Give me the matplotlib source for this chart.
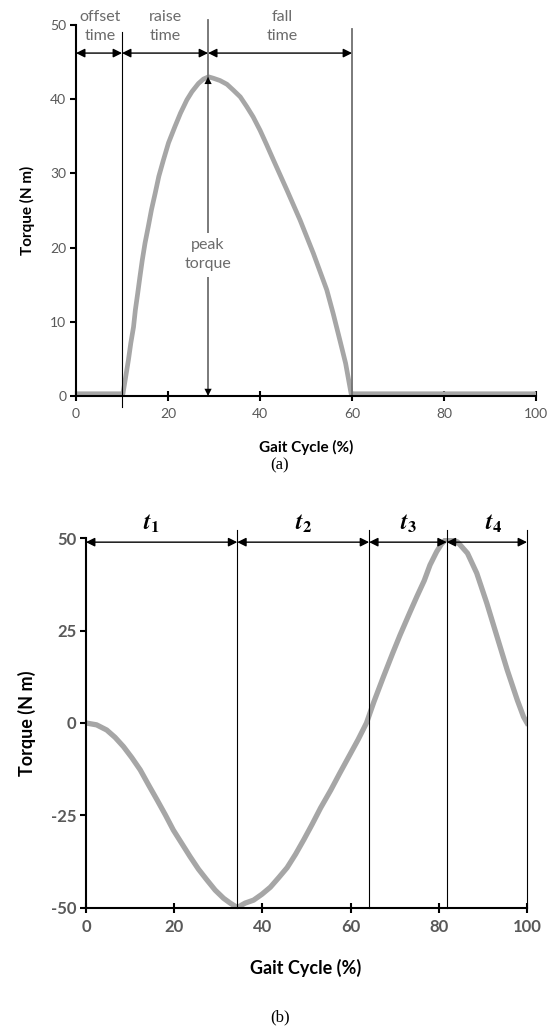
import matplotlib
matplotlib.use("Agg")
import matplotlib.pyplot as plt

plt.rcParams["font.family"] = ["Lato", "DejaVu Sans"]
plt.rcParams["mathtext.fontset"] = "stix"
plt.rcParams["axes.unicode_minus"] = False

# (a) torque profile
gait_a = [0, 10.2, 10.8, 11.4, 11.9, 12.5, 12.9, 13.4, 13.9, 14.4, 15.0, 15.7, 16.4,
          17.2, 18.0, 19.0, 20.1, 21.5, 22.7, 24.1, 25.2, 26.6, 27.7, 28.8, 29.9,
          31.3, 32.8, 34.2, 35.7, 37.1, 38.5, 40.0, 41.4, 42.9, 45.8, 48.7, 51.6,
          54.5, 55.9, 57.4, 58.6, 59.8, 100]
torque_a = [0.3, 0.3, 2.6, 4.9, 7.1, 9.3, 11.6, 13.8, 16.1, 18.3, 20.6, 22.8, 25.1,
            27.3, 29.6, 31.8, 34.1, 36.3, 38.1, 39.9, 41.0, 42.1, 42.7, 43.0, 42.8,
            42.5, 42.0, 41.2, 40.3, 39.0, 37.6, 35.8, 33.9, 31.8, 27.8, 23.7, 19.2,
            14.3, 11.1, 7.4, 4.4, 0.3, 0.3]
offset_time = 10
peak_time = 28.7
fall_end = 60
peak_torque = 43

# (b) torque profile
gait_b = [0, 2.4, 4.7, 6.6, 8.5, 10.4, 12.3, 14.2, 16.1, 18.0, 19.8, 21.7, 23.6,
          25.5, 27.4, 29.3, 31.2, 32.7, 34.3, 36.1, 38.0, 39.9, 41.8, 43.7, 45.6,
          47.5, 49.4, 51.3, 53.2, 55.5, 57.5, 59.6, 61.7, 63.6, 65.3, 67.4, 69.5,
          71.2, 73.3, 75.0, 76.7, 78.0, 79.5, 80.6, 81.8, 84.2, 86.5, 88.6, 90.9,
          93.2, 95.5, 97.8, 99.2, 100]
torque_b = [0, -0.5, -1.9, -3.9, -6.4, -9.4, -12.7, -16.8, -20.8, -24.9, -29.0,
            -32.6, -36.2, -39.6, -42.5, -45.3, -47.5, -48.8, -50, -48.8, -48.0,
            -46.4, -44.5, -41.9, -39.2, -35.6, -31.6, -27.4, -23.0, -18.2, -13.7,
            -9.1, -4.5, 0, 5.8, 12.4, 18.8, 23.8, 29.6, 34.2, 38.6, 42.8, 46.4,
            48.5, 50, 49.1, 46.0, 40.6, 32.4, 23.4, 14.4, 6.2, 1.7, 0]
phase_edges = [0, 34.3, 64.2, 81.8, 100]
phase_names = [r"$\mathbfit{t}_{\mathbf{1}}$", r"$\mathbfit{t}_{\mathbf{2}}$",
               r"$\mathbfit{t}_{\mathbf{3}}$", r"$\mathbfit{t}_{\mathbf{4}}$"]
phase_label_x = [14.8, 49.4, 73.0, 92.3]

curve_color = "#a6a6a6"
tick_gray = "#595959"
text_gray = "#6b6b6b"

fig = plt.figure(figsize=(5.59, 10.28), dpi=100)
ax1 = fig.add_axes([0.136, 0.6148, 0.823, 0.361])
ax2 = fig.add_axes([0.1538, 0.1172, 0.789, 0.359])


def style_axes(ax, size, bold):
    for side in ["top", "right"]:
        ax.spines[side].set_visible(False)
    for side in ["left", "bottom"]:
        ax.spines[side].set_linewidth(1.5)
    ax.tick_params(axis="y", direction="out", length=4, width=1.5,
                   labelsize=size, labelcolor=tick_gray, pad=3)
    ax.tick_params(axis="x", direction="inout", length=7, width=1.5,
                   labelsize=size, labelcolor=tick_gray, pad=5)
    if bold:
        for lab in ax.get_xticklabels() + ax.get_yticklabels():
            lab.set_fontweight("bold")


def double_arrow(ax, x0, x1, y):
    ax.annotate("", xy=(x1, y), xytext=(x0, y),
                arrowprops=dict(arrowstyle="<|-|>", color="black", lw=1,
                                mutation_scale=13, shrinkA=0, shrinkB=0))


# ---- panel (a)
ax1.plot(gait_a, torque_a, color=curve_color, lw=3.4, solid_joinstyle="round", zorder=2)
ax1.set_xlim(0, 100)
ax1.set_ylim(0, 50)
ax1.set_xticks(range(0, 101, 20))
ax1.set_yticks(range(0, 51, 10))
style_axes(ax1, 10, False)

ax1.plot([offset_time, offset_time], [-1.5, 49.1], color="black", lw=0.8, clip_on=False)
ax1.plot([peak_time, peak_time], [0, 50.7], color="#707070", lw=1.3, clip_on=False)
ax1.plot([fall_end, fall_end], [0, 49.5], color="#707070", lw=1.3, clip_on=False)
for y0, y1 in [(peak_torque - 3, peak_torque), (3, 0)]:
    ax1.annotate("", xy=(peak_time, y1), xytext=(peak_time, y0),
                 arrowprops=dict(arrowstyle="-|>", color="black", lw=0,
                                 mutation_scale=13, shrinkA=0, shrinkB=0))

double_arrow(ax1, 0, offset_time, 46.2)
double_arrow(ax1, offset_time, peak_time, 46.2)
double_arrow(ax1, peak_time, fall_end, 46.2)

for x, txt in [(5.3, "offset\ntime"), (19.4, "raise\ntime"), (44.8, "fall\ntime")]:
    ax1.text(x, 49.8, txt, ha="center", va="center", fontsize=11.5, color=text_gray,
             linespacing=1.45, clip_on=False)
ax1.text(peak_time, 19, "peak\ntorque", ha="center", va="center", fontsize=11.5,
         color=text_gray, linespacing=1.45,
         bbox=dict(facecolor="white", edgecolor="none", pad=4))

ax1.set_xlabel("Gait Cycle (%)", fontsize=11, fontweight="bold")
ax1.set_ylabel("Torque (N m)", fontsize=11, fontweight="bold")
ax1.xaxis.set_label_coords(0.5, -0.1375)
ax1.yaxis.set_label_coords(-0.1065, 0.5)
ax1.xaxis.label.set_va("center")
ax1.yaxis.label.set_va("center")

# ---- panel (b)
ax2.plot(gait_b, torque_b, color=curve_color, lw=3.8, solid_joinstyle="round", zorder=2)
ax2.set_xlim(0, 100)
ax2.set_ylim(-50, 50)
ax2.set_xticks(range(0, 101, 20))
ax2.set_yticks([-50, -25, 0, 25, 50])
style_axes(ax2, 12, True)

for x in phase_edges[1:]:
    ax2.plot([x, x], [-50, 52.3], color="black", lw=0.8, clip_on=False)
for i in range(4):
    double_arrow(ax2, phase_edges[i], phase_edges[i + 1], 49.0)
    ax2.text(phase_label_x[i], 54.0, phase_names[i], ha="center", va="center",
             fontsize=17, clip_on=False)

ax2.set_xlabel("Gait Cycle (%)", fontsize=13, fontweight="bold")
ax2.set_ylabel("Torque (N m)", fontsize=13, fontweight="bold")
ax2.xaxis.set_label_coords(0.497, -0.164)
ax2.yaxis.set_label_coords(-0.134, 0.5)
ax2.xaxis.label.set_va("center")
ax2.yaxis.label.set_va("center")

fig.text(0.501, 0.5477, "(a)", ha="center", va="center", fontsize=12,
         family="Liberation Serif")
fig.text(0.501, 0.0107, "(b)", ha="center", va="center", fontsize=12,
         family="Liberation Serif")

fig.savefig("out.png", dpi=100)
